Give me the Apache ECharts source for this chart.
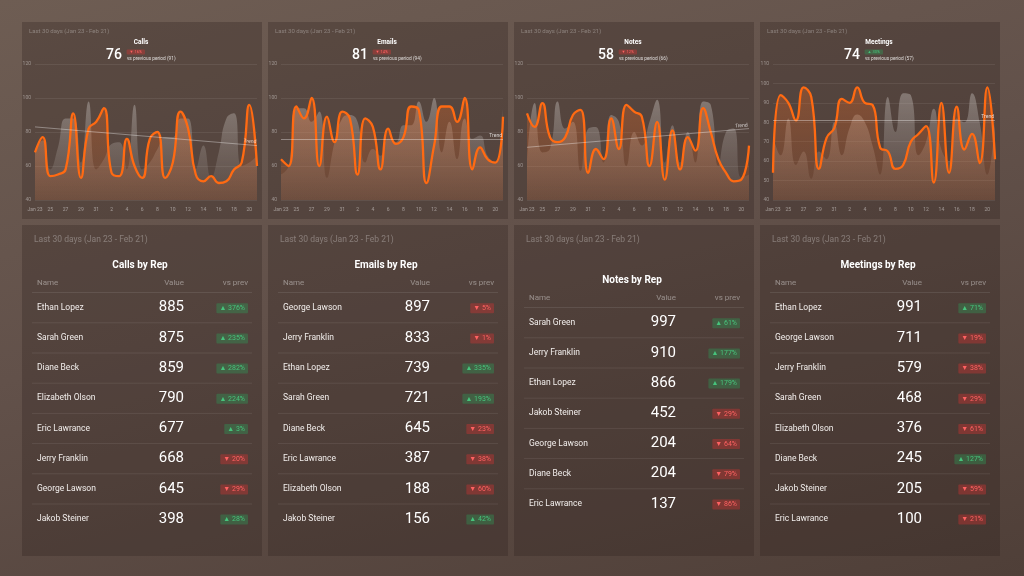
<!DOCTYPE html>
<html><head><meta charset="utf-8">
<script src="https://cdn.jsdelivr.net/npm/echarts/dist/echarts.min.js"></script>
<style>
html,body{margin:0;padding:0;width:1024px;height:576px;overflow:hidden;background:#5a4840;}
#c{width:1024px;height:576px;background:linear-gradient(165deg,#6e5d53 0%,#62514a 45%,#4f3f38 100%);}
</style></head><body><div id="c"></div>
<script>
// ---- Data ----
const categories = ['Jan 23','24','25','26','27','28','29','30','31','1','2','3','4','5','6','7','8','9','10','11','12','13','14','15','16','17','18','19','20','21'];
const subtitle = 'Last 30 days (Jan 23 - Feb 21)';

const callsCur  = [68,77,54,55,58,91,53,82,86,94,56,54,76,60,53,76,80,53,62,92,82,55,51,54,50,51,58,62,96,60];
const callsPrev = [70,75,58,71,88,88,62,98,58,64,73,74,58,96,58,62,70,77,77,88,88,58,72,53,68,88,91,60,62,66];
const callsTrend = [83,72];
const emailsCur  = [64,60,95,88,100,60,89,74,92,88,55,88,83,58,82,73,77,95,93,50,72,95,95,86,100,58,71,64,62,89];
const emailsPrev = [55,60,94,94,86,92,53,74,88,90,86,62,70,66,76,74,84,84,98,86,100,68,86,64,88,76,78,66,62,94];
const emailsTrend = [76,76];
const notesCur  = [91,83,97,77,74,77,90,93,56,70,64,88,70,96,92,89,60,86,52,81,58,77,69,94,80,64,56,51,52,72];
const notesPrev = [62,97,68,70,98,82,86,57,82,83,62,90,86,60,80,72,86,99,62,84,62,80,62,98,96,60,80,82,53,55];
const notesTrend = [71,82];
const meetingsCur  = [54,94,90,81,98,93,56,72,77,92,90,98,90,89,67,65,56,58,70,74,78,49,90,54,88,66,74,59,98,61];
const meetingsPrev = [73,63,82,58,65,51,65,61,80,63,77,84,80,68,53,93,75,95,94,63,70,87,66,60,82,80,95,80,53,80];
const meetingsTrend = [81,81];

const kpiTitles = ['Calls','Emails','Notes','Meetings'];
const kpiTotals = [76,81,58,74];
const kpiChanges = [-16,-14,-12,30];
const kpiPrevTotals = [91,94,66,57];
const yMaxes = [120,120,120,110];
const yIntervals = [20,20,20,10];

const tableTitles = ['Calls by Rep','Emails by Rep','Notes by Rep','Meetings by Rep'];
const callsNames  = ['Ethan Lopez','Sarah Green','Diane Beck','Elizabeth Olson','Eric Lawrance','Jerry Franklin','George Lawson','Jakob Steiner'];
const callsValues = [885,875,859,790,677,668,645,398];
const callsDelta  = [376,235,282,224,3,-20,-29,28];
const emailsNames  = ['George Lawson','Jerry Franklin','Ethan Lopez','Sarah Green','Diane Beck','Eric Lawrance','Elizabeth Olson','Jakob Steiner'];
const emailsValues = [897,833,739,721,645,387,188,156];
const emailsDelta  = [-5,-1,335,193,-23,-38,-60,42];
const notesNames  = ['Sarah Green','Jerry Franklin','Ethan Lopez','Jakob Steiner','George Lawson','Diane Beck','Eric Lawrance'];
const notesValues = [997,910,866,452,204,204,137];
const notesDelta  = [61,177,179,-29,-64,-79,-86];
const meetingsNames  = ['Ethan Lopez','George Lawson','Jerry Franklin','Sarah Green','Elizabeth Olson','Diane Beck','Jakob Steiner','Eric Lawrance'];
const meetingsValues = [991,711,579,468,376,245,205,100];
const meetingsDelta  = [71,-19,-38,-29,-61,127,-59,-21];

// ---- Build ----
const FONT = 'Roboto, "Noto Sans", sans-serif';
const colX = [22,268,514,760];
const curSets = [callsCur,emailsCur,notesCur,meetingsCur];
const prevSets = [callsPrev,emailsPrev,notesPrev,meetingsPrev];
const trends = [callsTrend,emailsTrend,notesTrend,meetingsTrend];
const tNames = [callsNames,emailsNames,notesNames,meetingsNames];
const tValues = [callsValues,emailsValues,notesValues,meetingsValues];
const tDelta = [callsDelta,emailsDelta,notesDelta,meetingsDelta];

const grids=[], xAxes=[], yAxes=[], series=[], graphics=[];
const grad = (c1,c2)=>new echarts.graphic.LinearGradient(0,0,0,1,[{offset:0,color:c1},{offset:1,color:c2}]);
const badge = (d,x,y,fs,pad)=>{
  const up = d>=0;
  return {type:'text', x:x, y:y, z:100, style:{text:(up?'▲ ':'▼ ')+Math.abs(d)+'%', fontFamily:FONT, fontSize:fs,
    fill: up?'#47c47c':'#ff6262', backgroundColor: up?'rgba(40,170,90,0.33)':'rgba(215,50,50,0.38)',
    padding:pad, borderRadius:1, align:'right', verticalAlign:'middle'}};
};

for(let i=0;i<4;i++){
  const px = colX[i];
  grids.push({left:px+13, top:64, width:222, height:136});
  xAxes.push({gridIndex:i, type:'category', data:categories, boundaryGap:false,
    axisLine:{show:false}, axisTick:{show:false},
    axisLabel:{interval:1, fontSize:5, color:'rgba(255,255,255,0.45)', margin:7, fontFamily:FONT}});
  yAxes.push({gridIndex:i, type:'value', min:40, max:yMaxes[i], interval:yIntervals[i],
    axisLine:{show:false}, axisTick:{show:false},
    splitLine:{lineStyle:{color:'rgba(255,255,255,0.07)', width:1}},
    axisLabel:{fontSize:5, color:'rgba(255,255,255,0.4)', margin:4, fontFamily:FONT}});
  series.push({type:'line', xAxisIndex:i, yAxisIndex:i, data:prevSets[i], smooth:0.5, symbol:'none',
    lineStyle:{width:0}, areaStyle:{color:grad('rgba(208,203,199,0.55)','rgba(205,200,196,0.06)')}, z:2, silent:true});
  series.push({type:'line', xAxisIndex:i, yAxisIndex:i, data:curSets[i], smooth:0.5, symbol:'none',
    lineStyle:{color:'#ff6a12', width:2.3}, areaStyle:{color:grad('rgba(235,105,35,0.45)','rgba(235,105,35,0.2)')}, z:3, silent:true,
    markLine:{symbol:'none', silent:true, animation:false,
      lineStyle:{color:'rgba(255,255,255,0.45)', width:0.8, type:'solid'},
      label:{show:true, formatter:'Trend', position:'insideEndTop', fontSize:5, color:'rgba(255,255,255,0.75)', fontFamily:FONT, distance:1},
      data:[[{coord:[categories[0], trends[i][0]]},{coord:[categories[29], trends[i][1]]}]]}});

  // top panel
  graphics.push({type:'rect', z:-10, shape:{x:px,y:22,width:240,height:197}, style:{fill:'rgba(45,34,29,0.30)'}});
  graphics.push({type:'text', x:px+7, y:31.5, z:100, style:{text:subtitle, fill:'rgba(255,255,255,0.3)', fontSize:6, fontFamily:FONT, verticalAlign:'middle'}});
  graphics.push({type:'text', x:px+119, y:42, z:100, style:{text:kpiTitles[i], fill:'#fff', fontSize:6.5, fontWeight:'bold', fontFamily:FONT, align:'center', verticalAlign:'middle'}});
  graphics.push({type:'text', x:px+100, y:55, z:100, style:{text:String(kpiTotals[i]), fill:'#fff', fontSize:14, fontWeight:500, fontFamily:FONT, align:'right', verticalAlign:'middle'}});
  graphics.push(badge(kpiChanges[i], px+123, 52, 4, [0.5,3]));
  graphics.push({type:'text', x:px+105, y:58.5, z:100, style:{text:'vs previous period ('+kpiPrevTotals[i]+')', fill:'rgba(255,255,255,0.8)', fontSize:4.8, fontFamily:FONT, verticalAlign:'middle'}});

  // bottom panel
  graphics.push({type:'rect', z:-10, shape:{x:px,y:225,width:240,height:331}, style:{fill:'rgba(45,34,29,0.30)'}});
  graphics.push({type:'text', x:px+12, y:239.5, z:100, style:{text:subtitle, fill:'rgba(255,255,255,0.3)', fontSize:8.5, fontFamily:FONT, verticalAlign:'middle'}});
  const n = tNames[i].length;
  const off = (8-n)*15 + 1;
  graphics.push({type:'text', x:px+118, y:264+off, z:100, style:{text:tableTitles[i], fill:'#fff', fontSize:10, fontWeight:'bold', fontFamily:FONT, align:'center', verticalAlign:'middle'}});
  graphics.push({type:'text', x:px+15, y:282+off, z:100, style:{text:'Name', fill:'rgba(255,255,255,0.4)', fontSize:8, fontFamily:FONT, verticalAlign:'middle'}});
  graphics.push({type:'text', x:px+162, y:282+off, z:100, style:{text:'Value', fill:'rgba(255,255,255,0.4)', fontSize:8, fontFamily:FONT, align:'right', verticalAlign:'middle'}});
  graphics.push({type:'text', x:px+226, y:282+off, z:100, style:{text:'vs prev', fill:'rgba(255,255,255,0.4)', fontSize:8, fontFamily:FONT, align:'right', verticalAlign:'middle'}});
  graphics.push({type:'line', z:50, shape:{x1:px+10,y1:291.5+off,x2:px+230,y2:291.5+off}, style:{stroke:'rgba(255,255,255,0.09)', lineWidth:1}});
  for(let k=0;k<n;k++){
    const yy = 306.7 + k*30.2 + off;
    graphics.push({type:'text', x:px+15, y:yy, z:100, style:{text:tNames[i][k], fill:'#f2eeec', fontSize:8.5, fontFamily:FONT, verticalAlign:'middle'}});
    graphics.push({type:'text', x:px+162, y:yy, z:100, style:{text:String(tValues[i][k]), fill:'#fff', fontSize:15, fontFamily:FONT, align:'right', verticalAlign:'middle'}});
    graphics.push(badge(tDelta[i][k], px+226, yy+0.5, 7, [1.5,3]));
    if(k<n-1) graphics.push({type:'line', z:50, shape:{x1:px+10,y1:yy+15.1,x2:px+230,y2:yy+15.1}, style:{stroke:'rgba(255,255,255,0.08)', lineWidth:1}});
  }
}

const chart = echarts.init(document.getElementById('c'), null, {renderer:'canvas'});
chart.setOption({
  animation:false,
  textStyle:{fontFamily:FONT},
  grid:grids, xAxis:xAxes, yAxis:yAxes, series:series,
  graphic:{elements:graphics}
});
</script></body></html>
